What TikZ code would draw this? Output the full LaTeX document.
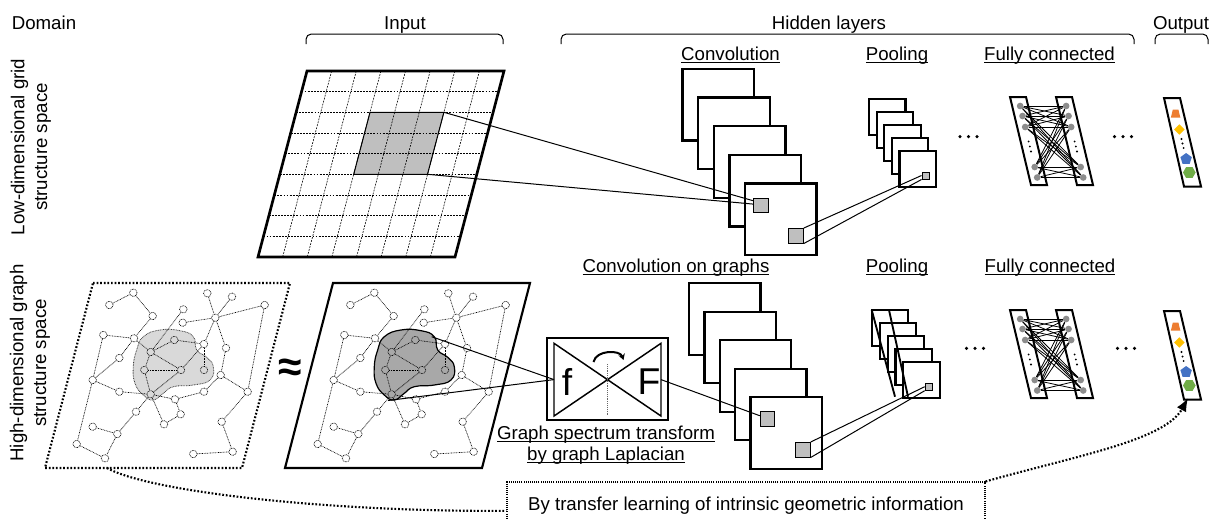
\documentclass[tikz,border=0pt]{standalone}
\usepackage{fontspec}
\setmainfont{Liberation Sans}
\usetikzlibrary{calc,arrows.meta,shapes.geometric}

\definecolor{patchgray}{HTML}{BFBFBF}
\definecolor{blobA}{HTML}{D9D9D9}
\definecolor{blobB}{HTML}{A8A8A8}
\definecolor{neurongray}{HTML}{8C8C8C}
\definecolor{outorange}{HTML}{ED7D31}
\definecolor{outyellow}{HTML}{FFC000}
\definecolor{outblue}{HTML}{4472C4}
\definecolor{outgreen}{HTML}{70AD47}

% underline at a fixed depth below the baseline
\newcommand\ulword[1]{\setbox0\hbox{#1}\rlap{\rule[-2.2pt]{\wd0}{0.75pt}}\box0}

\tikzset{
  heading/.style={anchor=base, inner sep=0pt},
  brace/.style={line width=0.75pt, rounded corners=4pt},
  layerbox/.style={draw, fill=white, line width=1.8pt, minimum width=53.6pt, minimum height=53.6pt, inner sep=0pt},
  poolbox/.style={draw, fill=white, line width=1.6pt, minimum width=27.3pt, minimum height=27pt, inner sep=0pt},
  kernel/.style={draw, fill=patchgray, line width=0.7pt, minimum size=10.9pt, inner sep=0pt},
  smallkernel/.style={draw, fill=patchgray, line width=0.6pt, minimum size=5.4pt, inner sep=0pt},
  conn/.style={line width=0.75pt},
  gridline/.style={line width=0.45pt, dash pattern=on 1.4pt off 0.9pt},
  gnode/.style={circle, draw, line width=0.5pt, dash pattern=on 0.6pt off 0.6pt, minimum size=5.6pt, inner sep=0pt},
  gedge/.style={line width=0.5pt, dash pattern=on 0.6pt off 0.6pt},
  transfer/.style={line width=1.6pt, dash pattern=on 1.3pt off 1.4pt},
  barline/.style={draw, fill=white, line width=1.5pt},
  neuron/.style={circle, fill=neurongray, minimum size=5pt, inner sep=0pt},
  fcline/.style={line width=0.6pt},
  dotmark/.style={circle, fill=black, minimum size=2.6pt, inner sep=0pt},
  tinydot/.style={circle, fill=black, minimum size=1.6pt, inner sep=0pt},
}

% graph with its nodes and edges; #1 name prefix, #2 horizontal offset
\newcommand\drawgraph[2]{%
  \foreach \p/\gx/\gy in {1/133.3/292.7, 2/109.3/305, 3/152.7/316, 4/183.3/309.3,
      5/182.7/322.7, 6/207.3/293.3, 7/232/296.7, 8/264.7/305, 9/215.3/317.7,
      10/103.3/335, 11/134/338.3, 12/174.3/340, 13/204/344, 14/226/348,
      15/150.7/352, 16/119.3/358, 17/144.3/370, 18/181/370, 19/204/370,
      20/92.7/380, 21/220.7/375, 22/119.3/391.7, 23/150.7/394.3, 24/175/399.3,
      25/204/391.7, 26/247.7/391.7, 27/136/411.7, 28/180.7/414.3, 29/164/424.3,
      30/221.7/421.7, 31/92.7/426.7, 32/117.3/434, 33/76.7/444, 34/105/458.3,
      35/193.3/454, 36/232.7/451.7}
    \node[gnode] (#1\p) at (\gx+#2,\gy) {};
  \foreach \u/\v in {2/1, 1/3, 3/11, 4/15, 5/9, 6/9, 7/9, 8/9, 9/13, 9/14, 8/26,
      14/21, 21/26, 10/11, 10/20, 11/15, 11/16, 16/20, 15/12, 15/17, 17/18,
      17/23, 18/23, 18/13, 12/13, 15/18, 20/22, 22/23, 23/29, 23/24, 24/25,
      25/21, 24/28, 28/29, 23/27, 27/32, 31/32, 32/34, 33/34, 20/33, 26/30,
      30/36, 35/36, 13/19}
    \draw[gedge] (#1\u) -- (#1\v);
}

% fully connected pair of layers; #1 name prefix, #2 vertical offset
\newcommand\fcblock[2]{%
  \begin{scope}[shift={(0,#2)}]
    \draw[barline] (1010,97) -- (1026,97) -- (1047,185) -- (1031,185) -- cycle;
    \draw[barline] (1056,97) -- (1072,97) -- (1093,185) -- (1077,185) -- cycle;
    \foreach \k/\dy in {1/9, 2/19, 3/30, 4/70, 5/80.5}{
      \node[neuron] (#1l\k) at (1018+\dy*0.2386, 97+\dy) {};
      \node[neuron] (#1r\k) at (1064+\dy*0.2386, 97+\dy) {};
    }
    \foreach \a in {1,...,5}{\foreach \b in {1,...,5}{\draw[fcline] (#1l\a) -- (#1r\b);}}
    \foreach \k/\dy in {1/44.5, 2/49.5, 3/54.5}{
      \node[tinydot] (#1lv\k) at (1018+\dy*0.2386, 97+\dy) {};
      \node[tinydot] (#1rv\k) at (1064+\dy*0.2386, 97+\dy) {};
    }
  \end{scope}}

% output layer; #1 name prefix, #2 vertical offset
\newcommand\outblock[2]{%
  \begin{scope}[shift={(0,#2)}]
    \draw[barline] (1164,98) -- (1180,98) -- (1201,186.5) -- (1184,186.5) -- cycle;
    \fill[outorange] (1170.9,117.5) -- (1180.3,117.5) -- (1178.4,109.5) -- (1172.8,109.5) -- cycle;
    \node[diamond, fill=outyellow, minimum width=8pt, minimum height=8pt, inner sep=0pt] (#1o2) at (1179.3,129.5) {};
    \foreach \k/\dy in {1/41, 2/45.5, 3/50}
      \node[tinydot] (#1v\k) at (1172+\dy*0.2316, 98+\dy) {};
    \node[regular polygon, regular polygon sides=5, fill=outblue, minimum size=9pt, inner sep=0pt] (#1o3) at (1186.1,159) {};
    \node[regular polygon, regular polygon sides=6, fill=outgreen, minimum size=9.5pt, inner sep=0pt] (#1o4) at (1189.3,172.5) {};
  \end{scope}}

\begin{document}
\begin{tikzpicture}[x=0.75pt,y=-0.75pt,font=\fontsize{14}{16.5}\selectfont]
\useasboundingbox (0,0) rectangle (1212,519);
\fill[white] (0,0) rectangle (1212,519);

% ---- headings and braces
\node[heading] (hDomain) at (44,29) {Domain};
\node[heading] (hInput) at (405,29) {Input};
\node[heading] (hHidden) at (829,29) {Hidden layers};
\node[heading] (hOutput) at (1181,29) {Output};
\draw[brace] (306,44) -- (306,34) -- (503,34) -- (503,44);
\draw[brace] (561,44) -- (561,34) -- (1134,34) -- (1134,44);
\draw[brace] (1155,44) -- (1155,34) -- (1208,34) -- (1208,44);

\node[rotate=90, align=center, font=\fontsize{14}{17}\selectfont] (rowLow) at (31,147) {Low-dimensional grid\\structure space};
\node[rotate=90, align=center, font=\fontsize{14}{17}\selectfont] (rowHigh) at (30,363) {High-dimensional graph\\structure space};

\node[heading] (tConv) at (730.5,60) {\ulword{Convolution}};
\node[heading] (tPool) at (897,60) {\ulword{Pooling}};
\node[heading] (tFC) at (1049.5,60) {\ulword{Fully connected}};
\node[heading] (bConv) at (676,272.5) {\ulword{Convolution on graphs}};
\node[heading] (bPool) at (897,272.5) {\ulword{Pooling}};
\node[heading] (bFC) at (1050,272.5) {\ulword{Fully connected}};
\node[heading] (gst1) at (606,439) {\ulword{Graph spectrum transform}};
\node[heading] (gst2) at (606,460) {\ulword{by graph Laplacian}};

% ---- input grid
\coordinate (gTL) at (307,71);
\coordinate (gTR) at (504,71);
\coordinate (gBR) at (455,257);
\coordinate (gBL) at (258,257);
\coordinate (pTR) at (443.9,112.3);
\coordinate (pBR) at (427.5,174.3);
\fill[patchgray] (370,112.3) -- (pTR) -- (pBR) -- (353.7,174.3) -- cycle;
\foreach \k in {1,...,8}
  \draw[gridline] ($(gTL)!\k/9!(gBL)$) -- ($(gTR)!\k/9!(gBR)$);
\foreach \j in {1,...,7}
  \draw[gridline] ($(gTL)!\j/8!(gTR)$) -- ($(gBL)!\j/8!(gBR)$);
\draw[line width=0.75pt] (370,112.3) -- (pTR) -- (pBR) -- (353.7,174.3) -- cycle;
\draw[line width=2pt] (gTL) -- (gTR) -- (gBR) -- (gBL) -- cycle;

% ---- graph domains
\draw[transfer] (93,283) -- (290,283) -- (242,468) -- (45,468) -- cycle;
\draw[line width=1.6pt] (333,283) -- (530,283) -- (482,468) -- (285,468) -- cycle;
\draw[fill=blobA, draw=black!75, line width=0.6pt, dash pattern=on 0.6pt off 0.6pt]
  plot[smooth cycle, tension=0.8] coordinates {(143.3,336.7) (160,330) (180,330.7) (193.3,336.7)
  (196.7,350) (206.7,357.3) (213.3,366.7) (210,380) (193.3,385) (173.3,386.7) (163.3,393.3)
  (153.3,400) (143.3,395) (135,383.3) (133.3,366.7) (136.7,350)};
\begin{scope}[shift={(241,0)}]
\draw[fill=blobB, line width=0.9pt]
  plot[smooth cycle, tension=0.8] coordinates {(143.3,336.7) (160,330) (180,330.7) (193.3,336.7)
  (196.7,350) (206.7,357.3) (213.3,366.7) (210,380) (193.3,385) (173.3,386.7) (163.3,393.3)
  (153.3,400) (143.3,395) (135,383.3) (133.3,366.7) (136.7,350)};
\end{scope}
\drawgraph{a}{0}
\drawgraph{b}{241}
\coordinate (blobTR) at (431.7,336.7);
\coordinate (blobBot) at (388,400.5);
\node[font=\bfseries\fontsize{32}{32}\selectfont, inner sep=0pt] (approx) at (290,370) {≈};

% ---- graph spectrum transform
\node[draw, line width=1.6pt, minimum width=91.2pt, minimum height=61.3pt, inner sep=0pt] (fbox) at (607.5,379.2) {};
\draw[line width=1.1pt] (554,343.3) -- (554,416) -- (661,343.3) -- (661,416) -- cycle;
\draw[black!60, line width=0.5pt, dash pattern=on 0.6pt off 0.8pt] (607.5,364) -- (607.5,416);
\draw[line width=1.5pt, -{Stealth[length=4.5pt,width=5pt]}] (593.5,362) .. controls (596,349.7) and (620,349.7) .. (623.5,360);
\node[font=\fontsize{28}{28}\selectfont, inner sep=0pt] (fsym) at (567,381.7) {f};
\node[font=\fontsize{28}{28}\selectfont, inner sep=0pt] (Fsym) at (649,381.7) {F};
\coordinate (fin) at (554,379.6);
\coordinate (fout) at (661,379.6);

% ---- convolution stacks
\foreach \i in {0,...,4}
  \node[layerbox] (convT\i) at (718.4+15.6*\i,104.8+28.6*\i) {};
\node[kernel] (kA1) at (760.7,205.3) {};
\node[kernel] (kB1) at (796,235.8) {};
\foreach \i in {0,...,4}
  \node[layerbox] (convB\i) at (724.7+15.4*\i,319+28.5*\i) {};
\node[kernel] (kA2) at (767.5,418.8) {};
\node[kernel] (kB2) at (803,449.7) {};

% ---- pooling stacks (the lower one is warped)
\foreach \i in {0,...,4}
  \node[poolbox] (poolT\i) at (887.3+7.6*\i,117+12.9*\i) {};
\node[smallkernel] (pk1) at (925.5,175.5) {};
\foreach \i in {0,...,4}
  \node[poolbox] (poolB\i) at (890+7.9*\i,328.2+12.9*\i) {};
\draw[line width=1.4pt] (871.7,310) -- (895,396.7);
\draw[line width=1.4pt] (889,310) -- (908,396.7);
\node[smallkernel] (pk2) at (928.7,386.7) {};

% ---- ellipses between layers
\foreach \k/\dx in {1/-8.5, 2/0, 3/8.5}{
  \node[dotmark] (eTa\k) at (968.5+\dx,136.7) {};
  \node[dotmark] (eTb\k) at (1123+\dx,136.7) {};
  \node[dotmark] (eBa\k) at (975+\dx,348.3) {};
  \node[dotmark] (eBb\k) at (1126+\dx,348.3) {};
}

% ---- fully connected and output layers
\fcblock{t}{0}
\fcblock{b}{213}
\outblock{t}{0}
\outblock{b}{213}

% ---- connectors
\draw[conn] (pTR) -- ($(kA1.north west)!0.2!(kA1.south west)$);
\draw[conn] (pBR) -- ($(kA1.north west)!0.42!(kA1.south west)$);
\draw[conn] (kB1.north east) -- (pk1.west);
\draw[conn] (kB1.south east) -- (pk1.south west);
\draw[conn] (blobTR) -- (fin);
\draw[conn] (blobBot) -- (fin);
\draw[conn] (fout) -- ($(kA2.north west)!0.3!(kA2.south west)$);
\draw[conn] (kB2.north east) -- (pk2.west);
\draw[conn] (kB2.south east) -- (pk2.south west);

% ---- transfer learning path
\node[draw, line width=0.8pt, dash pattern=on 0.7pt off 0.9pt, minimum width=358.5pt, minimum height=35.3pt, inner sep=0pt] (tbox) at (746,505.5) {By transfer learning of intrinsic geometric information};
\coordinate (gsrc) at (107,468);
\coordinate (outTip) at (1188,398);
\draw[transfer] (gsrc) .. controls (150,492) and (330,512) .. ([yshift=-4pt]tbox.west);
\draw[transfer, -{Latex[length=10pt,width=8pt]}] (tbox.north east) .. controls (1080,455) and (1165,440) .. (outTip);
\end{tikzpicture}
\end{document}
